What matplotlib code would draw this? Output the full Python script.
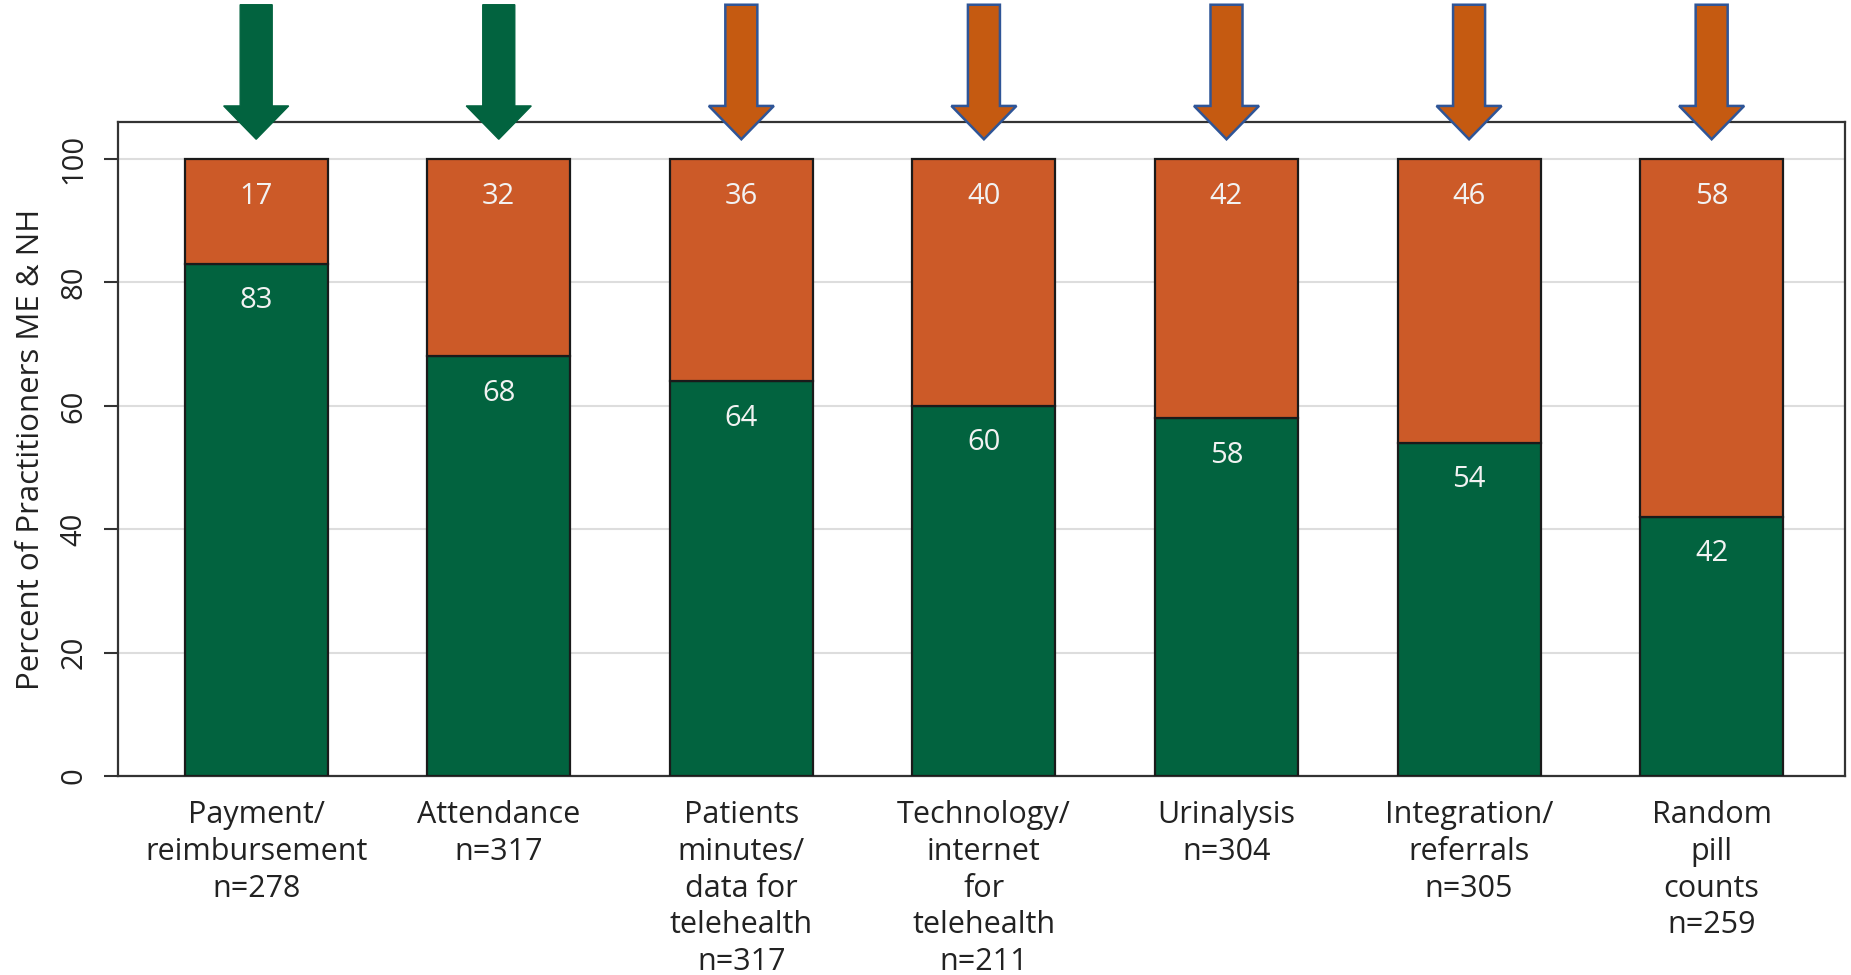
import matplotlib
matplotlib.use("Agg")
import matplotlib.pyplot as plt
from matplotlib.patches import Polygon
import numpy as np

plt.rcParams['font.family'] = ['Open Sans', 'DejaVu Sans']

categories = [
    "Payment/\nreimbursement\nn=278",
    "Attendance\nn=317",
    "Patients\nminutes/\ndata for\ntelehealth\nn=317",
    "Technology/\ninternet\nfor\ntelehealth\nn=211",
    "Urinalysis\nn=304",
    "Integration/\nreferrals\nn=305",
    "Random\npill\ncounts\nn=259",
]
green_pct = [83, 68, 64, 60, 58, 54, 42]
orange_pct = [17, 32, 36, 40, 42, 46, 58]
arrow_kind = ["green", "green", "orange", "orange", "orange", "orange", "orange"]

GREEN = "#02633F"
ORANGE = "#CC5A28"
ARROW_ORANGE = "#C55A11"
ARROW_EDGE = "#2F5597"

fig = plt.figure(figsize=(18.51, 9.75), dpi=100)
ax = fig.add_axes([0.0637, 0.204, 0.9331, 0.6709])

x = np.arange(len(categories))
width = 0.59
ax.bar(x, green_pct, width, color=GREEN, edgecolor="#1a1a1a", linewidth=1.6, zorder=3)
ax.bar(x, orange_pct, width, bottom=green_pct, color=ORANGE, edgecolor="#1a1a1a",
       linewidth=1.6, zorder=3)

for xi, g, o in zip(x, green_pct, orange_pct):
    ax.text(xi, g - 6.0, str(g), ha="center", va="center", color="#F2F2F2",
            fontsize=21, zorder=4)
    ax.text(xi, g + o - 6.0, str(o), ha="center", va="center", color="#F2F2F2",
            fontsize=21, zorder=4)

ax.set_xlim(-0.57, 6.55)
ax.set_ylim(0, 106)
ax.set_yticks([0, 20, 40, 60, 80, 100])
ax.set_yticklabels(["0", "20", "40", "60", "80", "100"], rotation=90, va="center",
                   fontsize=21, color="#222222")
ax.set_xticks(x)
ax.set_xticklabels(categories, fontsize=22, color="#222222", linespacing=1.3)
ax.tick_params(axis="x", length=0, pad=17)
ax.tick_params(axis="y", length=10, width=1.5, pad=11, color="#333333")
ax.set_ylabel("Percent of Practitioners ME & NH", fontsize=22.5, color="#222222",
              labelpad=10)

ax.grid(axis="y", color="#DDDDDD", linewidth=1.5, zorder=0)
ax.set_axisbelow(True)
for sp in ax.spines.values():
    sp.set_color("#333333")
    sp.set_linewidth(1.6)

# Down arrows above each bar
shaft_hw = 0.066
head_hw = 0.134
y_top, y_head, y_tip = 125.0, 108.6, 103.2
for xi, kind in zip(x, arrow_kind):
    pts = [
        (xi - shaft_hw, y_top), (xi + shaft_hw, y_top), (xi + shaft_hw, y_head),
        (xi + head_hw, y_head), (xi, y_tip), (xi - head_hw, y_head),
        (xi - shaft_hw, y_head),
    ]
    if kind == "green":
        poly = Polygon(pts, closed=True, facecolor=GREEN, edgecolor=GREEN,
                       linewidth=1.0, clip_on=False, zorder=5)
    else:
        poly = Polygon(pts, closed=True, facecolor=ARROW_ORANGE, edgecolor=ARROW_EDGE,
                       linewidth=1.8, clip_on=False, zorder=5)
    ax.add_patch(poly)

fig.savefig("out.png", dpi=100, facecolor="white")
